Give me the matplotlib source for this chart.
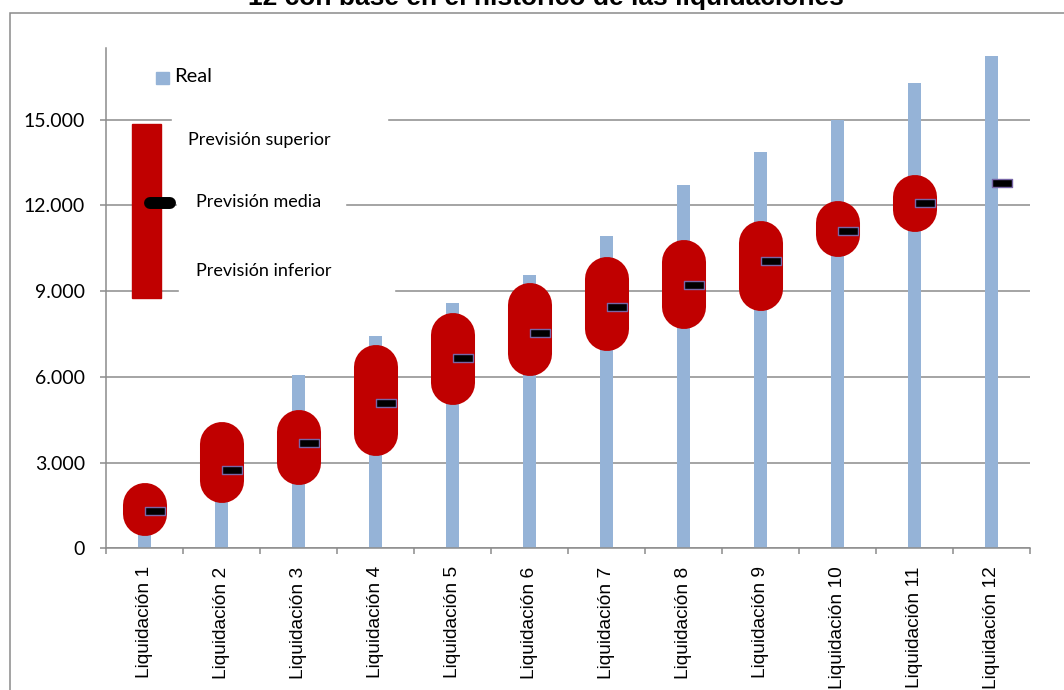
import matplotlib
matplotlib.use("Agg")
import matplotlib.pyplot as plt
import numpy as np
from matplotlib.patches import Rectangle
from matplotlib.lines import Line2D
from matplotlib.path import Path
from matplotlib.ticker import FuncFormatter, FixedLocator

# Data
categories = ["Liquidación %d" % i for i in range(1, 13)]
real = [1800, 3900, 6080, 7420, 8570, 9550, 10930, 12700, 13860, 14980, 16270, 17220]
prev_superior = [1500, 3650, 4070, 6360, 7480, 8530, 9420, 10030, 10700, 11370, 12310, np.nan]
prev_inferior = [1200, 2360, 2980, 4010, 5800, 6800, 7660, 8430, 9080, 10970, 11850, np.nan]
prev_media = [1300, 2740, 3680, 5090, 6660, 7550, 8460, 9210, 10070, 11120, 12070, 12770]
y_ticks = [0, 3000, 6000, 9000, 12000, 15000]

W, H = 1064, 690
fig = plt.figure(figsize=(W / 100, H / 100), dpi=100)


def px(x, y):
    # pixel position (from top-left) -> figure fraction
    return x / W, 1 - y / H


grid_col = "#8c8c8c"
blue = "#95B3D7"
red = "#C00000"
calibri_like = "Lato"

ax = fig.add_axes([106 / W, 1 - 548.3 / H, 924 / W, 500 / H])
x = np.arange(len(categories))

ax.bar(x, real, width=0.18, color=blue, zorder=2)
ax.vlines(x, prev_inferior, prev_superior, color=red, linewidth=31.7,
          capstyle="round", zorder=3)

rect_marker = Path([(-1, -0.4), (1, -0.4), (1, 0.4), (-1, 0.4), (-1, -0.4)],
                   [Path.MOVETO, Path.LINETO, Path.LINETO, Path.LINETO, Path.CLOSEPOLY])
ax.plot(x + 0.14, prev_media, linestyle="none", marker=rect_marker, markersize=14,
        markerfacecolor="black", markeredgecolor="#7766A6", markeredgewidth=1.0, zorder=4)

ax.set_xlim(-0.5, len(categories) - 0.5)
ax.set_ylim(0, 17500)
ax.set_yticks(y_ticks)
ax.yaxis.set_major_formatter(FuncFormatter(lambda v, p: f"{int(v):,}".replace(",", ".")))
ax.yaxis.grid(True, color=grid_col, linewidth=1.1, zorder=0.5)
ax.set_axisbelow(True)

ax.set_xticks(x)
ax.set_xticklabels(categories, rotation=90, fontsize=13.8, family="Liberation Sans")
ax.xaxis.set_minor_locator(FixedLocator(np.arange(-0.5, len(categories), 1.0)))
ax.tick_params(axis="x", which="major", length=0, pad=13)
ax.tick_params(axis="x", which="minor", length=4.5, color=grid_col, width=1.1)
ax.tick_params(axis="y", length=4.3, color=grid_col, width=1.1, pad=11, labelsize=14)
for lab in ax.get_yticklabels():
    lab.set_family(calibri_like)

for s in ["top", "right"]:
    ax.spines[s].set_visible(False)
for s in ["left", "bottom"]:
    ax.spines[s].set_color(grid_col)
    ax.spines[s].set_linewidth(1.1)

# Outer chart border (cropped on right and bottom)
fig.patches.append(Rectangle(px(10.3, 700), (1100 - 10.3) / W, (700 - 13.3) / H,
                             transform=fig.transFigure, fill=False,
                             edgecolor="#8a8a8a", linewidth=1.1))

# Title (cut off at the top, as in the original)
fig.text(546 / W, 1 - 5 / H, "12 con base en el histórico de las liquidaciones",
         ha="center", va="baseline", fontsize=19, fontweight="bold",
         family="Liberation Sans")

# Legend: Real
fig.patches.append(Rectangle(px(156, 84), 12.5 / W, 12.5 / H, transform=fig.transFigure,
                             color=blue, zorder=5))
fig.text(174 / W, 1 - 77 / H, "Real", ha="left", va="center", fontsize=14.5,
         family=calibri_like)

# Legend: forecast
for x0, x1, yc in [(172, 387, 120), (177, 345, 205), (179, 394, 291)]:
    fig.patches.append(Rectangle(px(x0, yc + 4), (x1 - x0) / W, 8 / H,
                                 transform=fig.transFigure, color="white", zorder=5))
fig.patches.append(Rectangle(px(131.7, 297.7), 29.3 / W, 173.7 / H,
                             transform=fig.transFigure, color=red, zorder=6))
pill_x0, pill_y = px(149.5, 203)
pill_x1, _ = px(170, 203)
fig.lines.append(Line2D([pill_x0, pill_x1], [pill_y, pill_y], transform=fig.transFigure,
                        color="black", linewidth=8.6, solid_capstyle="round", zorder=7))
fig.text(188.3 / W, 1 - 140 / H, "Previsión superior", ha="left", va="center",
         fontsize=13, family=calibri_like, zorder=8)
fig.text(195.7 / W, 1 - 201.7 / H, "Previsión media", ha="left", va="center",
         fontsize=13, family=calibri_like, zorder=8)
fig.text(195.7 / W, 1 - 270.7 / H, "Previsión inferior", ha="left", va="center",
         fontsize=13, family=calibri_like, zorder=8)

fig.savefig("out.png", dpi=100)
